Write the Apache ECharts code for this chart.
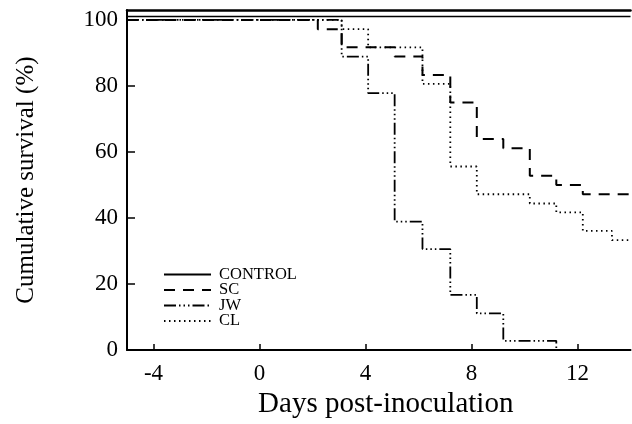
<!DOCTYPE html>
<html>
<head>
<meta charset="utf-8">
<script src="https://cdn.jsdelivr.net/npm/echarts@6/dist/echarts.min.js"></script>
<style>
html,body{margin:0;padding:0;background:#fff;}
#chart{width:632px;height:424px;}
</style>
</head>
<body>
<div id="chart"></div>
<script>
// Data (days post-inoculation, cumulative survival %)
var xTicks = [-4, 0, 4, 8, 12];
var yTicks = [0, 20, 40, 60, 80, 100];

var controlDays = [-5, 14];
var controlSurv = [101, 101];

var scDays = [-5, 2.2, 3.1, 5.1, 6.15, 7.2, 8.2, 9.2, 10.2, 11.2, 12.2, 14];
var scSurv = [100, 97.2, 91.7, 88.9, 83.3, 75, 63.9, 61.1, 52.8, 50, 47.2, 47.2];

var jwDays = [-5, 3.1, 4.1, 5.1, 6.15, 7.2, 8.2, 9.2, 11.2, 14];
var jwSurv = [100, 88.9, 77.8, 38.9, 30.6, 16.7, 11.1, 2.8, 0, 0];

var clDays = [-5, 3.1, 4.1, 6.15, 7.2, 8.2, 10.2, 11.2, 12.2, 13.3, 14];
var clSurv = [100, 97.2, 91.7, 80.6, 55.6, 47.2, 44.4, 41.7, 36.1, 33.3, 33.3];

function pairs(xs, ys) {
  return xs.map(function (x, i) { return [x, ys[i]]; });
}

var FONT = 'Liberation Serif';
var chart = echarts.init(document.getElementById('chart'), null, {renderer: 'canvas'});

function mkSeries(name, xs, ys, type, width) {
  return {
    name: name,
    type: 'line',
    step: 'end',
    symbol: 'none',
    showSymbol: false,
    data: pairs(xs, ys),
    lineStyle: {color: '#000', width: width, type: type},
    itemStyle: {color: '#000'},
    animation: false,
    z: 3
  };
}

chart.setOption({
  backgroundColor: '#fff',
  animation: false,
  grid: {left: 127, right: 1.5, top: 10, bottom: 66, containLabel: false},
  legend: {
    orient: 'vertical',
    left: 158,
    top: 261,
    padding: 5,
    itemWidth: 47,
    itemHeight: 12,
    itemGap: -1.5,
    itemStyle: {opacity: 0, borderWidth: 0},
    textStyle: {fontFamily: FONT, fontSize: 16.5, color: '#000', lineHeight: 14, padding: [0, 0, 0, 3]},
    data: ['CONTROL', 'SC', 'JW', 'CL']
  },
  xAxis: [{
    type: 'value',
    min: -5,
    max: 14,
    name: 'Days post-inoculation',
    nameLocation: 'middle',
    nameGap: 39,
    nameTextStyle: {fontFamily: FONT, fontSize: 29, color: '#000', padding: [0, 0, 0, 14]},
    axisLine: {show: true, onZero: false, lineStyle: {color: '#000', width: 2}},
    axisTick: {show: true, inside: true, length: 6, customValues: xTicks, lineStyle: {color: '#000', width: 1.5}},
    axisLabel: {fontFamily: FONT, fontSize: 23, color: '#000', margin: 12, customValues: xTicks},
    splitLine: {show: false}
  }, {
    type: 'value',
    position: 'top',
    min: -5,
    max: 14,
    axisLine: {show: true, onZero: false, lineStyle: {color: '#000', width: 2.5}},
    axisTick: {show: false},
    axisLabel: {show: false},
    splitLine: {show: false}
  }],
  yAxis: {
    type: 'value',
    min: 0,
    max: 103,
    name: 'Cumulative survival (%)',
    nameLocation: 'middle',
    nameGap: 88,
    nameTextStyle: {fontFamily: FONT, fontSize: 25, color: '#000'},
    axisLine: {show: true, onZero: false, lineStyle: {color: '#000', width: 2}},
    axisTick: {show: true, inside: true, length: 8, customValues: yTicks, lineStyle: {color: '#000', width: 1.5}},
    axisLabel: {fontFamily: FONT, fontSize: 23, color: '#000', margin: 9, customValues: yTicks},
    splitLine: {show: false}
  },
  series: [
    mkSeries('CONTROL', controlDays, controlSurv, 'solid', 1.5),
    mkSeries('SC', scDays, scSurv, [11, 8], 2),
    mkSeries('JW', jwDays, jwSurv, [12, 3, 1.5, 3, 1.5, 3, 1.5, 3], 1.8),
    mkSeries('CL', clDays, clSurv, [1.5, 3.5], 1.8)
  ]
});
</script>
</body>
</html>
